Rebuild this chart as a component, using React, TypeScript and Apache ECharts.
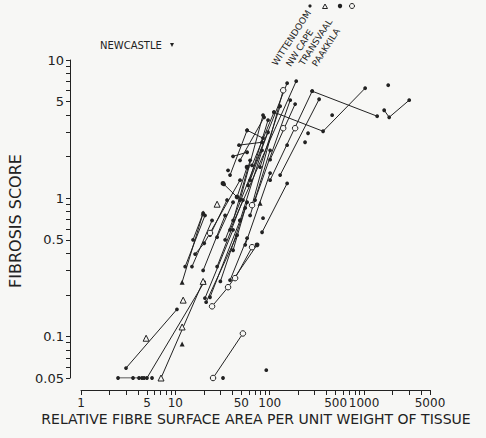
import React, { useEffect, useRef } from "react";
import * as echarts from "echarts";

type Pt = [number, number];

const xTickValues = [1, 2, 3, 4, 5, 6, 7, 8, 9, 10, 20, 30, 40, 50, 60, 70, 80, 90, 100, 200, 300, 400, 500, 600, 700, 800, 900, 1000, 2000, 3000, 4000, 5000];
const xLabelValues = [1, 5, 10, 50, 100, 500, 1000, 5000];
const yTickValues = [0.05, 0.06, 0.07, 0.08, 0.09, 0.1, 0.2, 0.3, 0.4, 0.5, 0.6, 0.7, 0.8, 0.9, 1, 2, 3, 4, 5, 6, 7, 8, 9, 10];
const yLabelValues = [0.05, 0.1, 0.5, 1, 5, 10];

const wittendoomTraces: Pt[][] = [
  [[2.47, 0.05], [5.0, 0.05], [20.2, 0.247]],
  [[3.0, 0.059], [10.4, 0.157]],
  [[12.7, 0.32], [20.6, 0.75]],
  [[15.0, 0.32], [24.5, 0.69]],
  [[16.2, 0.394], [20.2, 0.472], [48.5, 1.35]],
  [[20.6, 0.189], [40.9, 0.59]],
  [[21.2, 0.177], [45.1, 0.54]],
  [[23.3, 0.192], [48.5, 0.69]],
  [[15.4, 0.5], [19.7, 0.78]],
  [[40.9, 2.01], [57.6, 2.15]],
  [[47.3, 2.42], [83, 2.54]],
  [[57.6, 3.1], [38, 1.47]],
  [[57.6, 3.1], [85, 2.72]],
  [[87.3, 3.85], [48.5, 1.88]],
  [[96, 3.0], [62, 1.35]],
  [[96, 3.67], [59, 1.24]],
  [[191, 7.03], [38, 0.59]],
  [[153, 6.8], [33.7, 0.5]],
  [[282, 5.95], [1377, 3.92]],
  [[282, 5.95], [101, 1.35]],
  [[111, 4.19], [368, 3.05], [1027, 6.25]],
  [[111, 4.19], [65, 1.73]],
  [[334, 5.2], [129, 1.47]],
  [[1634, 4.33], [1846, 3.85], [3010, 5.12]],
  [[153, 1.28], [83, 0.567]],
  [[101, 1.52], [55, 0.46]],
  [[57.6, 0.514], [38, 0.255]],
  [[35.3, 0.97], [23.3, 0.54]],
  [[40.9, 0.935], [27.7, 0.522]],
  [[57.6, 0.935], [40.9, 0.42]],
  [[165, 5.12], [70, 0.97]],
  [[85, 3.99], [48.5, 0.97]],
  [[48.5, 0.69], [83, 2.22]],
  [[62, 0.75], [101, 2.22]],
  [[41, 0.69], [62, 1.88]],
  [[27.7, 0.32], [52, 0.97]],
  [[30, 0.25], [55, 0.85]],
  [[19.7, 0.3], [33.7, 0.75]],
  [[129, 4.63], [79, 1.68]],
  [[186, 4.8], [101, 1.9]],
];
const wittendoomPoints: Pt[] = [
  [3.56, 0.05], [4.12, 0.05], [4.43, 0.05], [4.66, 0.05], [5.66, 0.05], [32, 0.05], [92, 0.057],
  [459, 3.99], [1803, 6.57], [255, 2.95], [237, 2.54], [153, 2.42], [36.2, 1.59], [32.8, 1.26], [85, 0.717],
];
const transvaalTraces: Pt[][] = [
  [[32, 1.28], [45.1, 1.02], [57.6, 1.68]],
  [[36.2, 0.227], [73.5, 0.46]],
];
const nwCapeTraces: Pt[][] = [
  [[7.05, 0.05], [19.7, 0.25]],
];
const nwCapePoints: Pt[] = [[11.8, 0.117], [4.9, 0.097], [27.7, 0.905], [12.1, 0.183]];
const newcastleTraces: Pt[][] = [
  [[11.8, 0.247], [19.7, 0.78]],
];
const newcastlePoints: Pt[] = [[11.8, 0.088], [79, 0.92]];
const paakkilaTraces: Pt[][] = [
  [[25.1, 0.05], [52, 0.105]],
  [[65, 0.442], [43, 0.264]],
  [[24.5, 0.165], [36.2, 0.227]],
  [[139, 6.04], [65, 0.89]],
];
const paakkilaPoints: Pt[] = [[23.3, 0.56], [139, 3.21], [186, 3.21]];

const legendNames = ["WITTENDOOM", "NW CAPE", "TRANSVAAL", "PAAKKILA"];

const INK = "#222222";
const PAPER = "#f7f7f5";
const FONT = "DejaVu Sans";

type Sym = { symbol: string; size: number; fill: string; border: string; bw: number };
const symWitt: Sym = { symbol: "circle", size: 3.8, fill: INK, border: INK, bw: 0 };
const symTrans: Sym = { symbol: "circle", size: 4.8, fill: INK, border: INK, bw: 0 };
const symCape: Sym = { symbol: "triangle", size: 6, fill: PAPER, border: INK, bw: 1 };
const symNew: Sym = { symbol: "triangle", size: 5, fill: INK, border: INK, bw: 0 };
const symPaak: Sym = { symbol: "circle", size: 5.5, fill: PAPER, border: INK, bw: 1 };

function traceSeries(traces: Pt[][], s: Sym) {
  return traces.map((t) => ({
    type: "line",
    data: t,
    symbol: s.symbol,
    symbolSize: s.size,
    showSymbol: true,
    lineStyle: { color: INK, width: 1 },
    itemStyle: { color: s.fill, borderColor: s.border, borderWidth: s.bw },
    z: 3,
  }));
}
function pointSeries(points: Pt[], s: Sym) {
  return {
    type: "scatter",
    data: points,
    symbol: s.symbol,
    symbolSize: s.size,
    itemStyle: { color: s.fill, borderColor: s.border, borderWidth: s.bw, opacity: 1 },
    z: 4,
  };
}

export default function App() {
  const ref = useRef<HTMLDivElement>(null);
  useEffect(() => {
    if (!ref.current) return;
    const chart = echarts.init(ref.current, undefined, { renderer: "svg" });
    const rad = (57 * Math.PI) / 180;
    const legendStarts: [number, number][] = [[278, 67], [292, 68], [305, 67], [318, 68]];
    chart.setOption({
      animation: false,
      backgroundColor: PAPER,
      grid: { left: 81, right: 56, top: 60, bottom: 60 },
      xAxis: {
        type: "log",
        logBase: 10,
        min: 1,
        max: 5000,
        offset: 12,
        splitLine: { show: false },
        axisLine: { show: true, lineStyle: { color: INK, width: 1 } },
        axisTick: { show: true, inside: false, length: 5, customValues: xTickValues, lineStyle: { color: INK, width: 1 } },
        axisLabel: {
          customValues: xLabelValues,
          formatter: (v: number) => String(v),
          color: INK,
          fontFamily: FONT,
          fontSize: 12,
          margin: 7,
        },
      },
      yAxis: {
        type: "log",
        logBase: 10,
        min: 0.05,
        max: 10,
        offset: 11,
        splitLine: { show: false },
        axisLine: { show: true, lineStyle: { color: INK, width: 1 } },
        axisTick: { show: true, inside: false, length: 4, customValues: yTickValues, lineStyle: { color: INK, width: 1 } },
        axisLabel: {
          customValues: yLabelValues,
          formatter: (v: number) => String(v),
          color: INK,
          fontFamily: FONT,
          fontSize: 13,
          margin: 6,
        },
      },
      series: [
        ...traceSeries(wittendoomTraces, symWitt),
        pointSeries(wittendoomPoints, symWitt),
        ...traceSeries(transvaalTraces, symTrans),
        ...traceSeries(nwCapeTraces, symCape),
        pointSeries(nwCapePoints, symCape),
        ...traceSeries(newcastleTraces, symNew),
        pointSeries(newcastlePoints, symNew),
        ...traceSeries(paakkilaTraces, symPaak),
        pointSeries(paakkilaPoints, symPaak),
      ],
      graphic: [
        {
          type: "text",
          x: 256,
          y: 419,
          style: { text: "RELATIVE FIBRE SURFACE AREA PER UNIT WEIGHT OF TISSUE", fill: INK, font: `14px ${FONT}`, textAlign: "center", textVerticalAlign: "middle" },
        },
        {
          type: "text",
          x: 15,
          y: 221,
          rotation: Math.PI / 2,
          style: { text: "FIBROSIS SCORE", fill: INK, font: `16px ${FONT}`, textAlign: "center", textVerticalAlign: "middle" },
        },
        {
          type: "text",
          x: 100,
          y: 45,
          style: { text: "NEWCASTLE", fill: INK, font: `10px ${FONT}`, textAlign: "left", textVerticalAlign: "middle" },
        },
        { type: "polygon", shape: { points: [[170, 43], [174, 43], [172, 47]] }, style: { fill: INK } },
        ...legendNames.map((name, i) => ({
          type: "text",
          x: legendStarts[i][0],
          y: legendStarts[i][1],
          rotation: rad,
          style: { text: name, fill: INK, font: `9px ${FONT}`, textAlign: "left", textVerticalAlign: "bottom" },
        })),
        { type: "circle", shape: { cx: 310, cy: 6, r: 1.6 }, style: { fill: INK } },
        { type: "polygon", shape: { points: [[322.5, 8.5], [327.5, 8.5], [325, 4]] }, style: { fill: PAPER, stroke: INK, lineWidth: 1 } },
        { type: "circle", shape: { cx: 340, cy: 6, r: 2.2 }, style: { fill: INK } },
        { type: "circle", shape: { cx: 352, cy: 6, r: 2.5 }, style: { fill: PAPER, stroke: INK, lineWidth: 1 } },
      ],
    });
    return () => chart.dispose();
  }, []);
  return <div ref={ref} style={{ position: "fixed", left: 0, top: 0, width: 486, height: 438 }} />;
}
